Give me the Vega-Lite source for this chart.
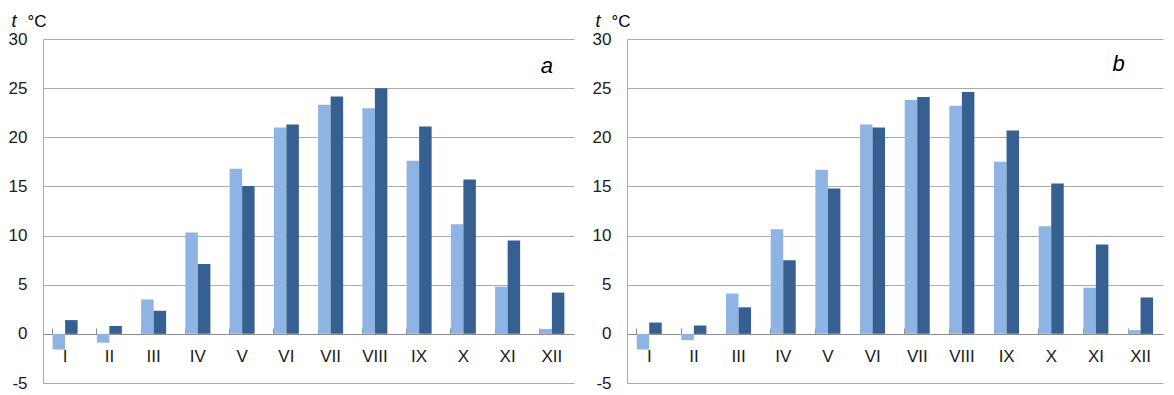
{
  "$schema": "https://vega.github.io/schema/vega-lite/v6.json",
  "background": "white",
  "padding": {"left": 8, "top": 12, "right": 6, "bottom": 4},
  "spacing": 18,
  "config": {
    "view": {"stroke": null},
    "font": "Liberation Sans",
    "axis": {"labelFont": "Liberation Sans", "titleFont": "Liberation Sans"}
  },
  "datasets": {
    "a": [
      {"month": "I", "series": "s1", "t": -1.6}, {"month": "I", "series": "s2", "t": 1.4},
      {"month": "II", "series": "s1", "t": -0.9}, {"month": "II", "series": "s2", "t": 0.8},
      {"month": "III", "series": "s1", "t": 3.5}, {"month": "III", "series": "s2", "t": 2.35},
      {"month": "IV", "series": "s1", "t": 10.3}, {"month": "IV", "series": "s2", "t": 7.1},
      {"month": "V", "series": "s1", "t": 16.8}, {"month": "V", "series": "s2", "t": 15.05},
      {"month": "VI", "series": "s1", "t": 21.0}, {"month": "VI", "series": "s2", "t": 21.3},
      {"month": "VII", "series": "s1", "t": 23.3}, {"month": "VII", "series": "s2", "t": 24.15},
      {"month": "VIII", "series": "s1", "t": 22.95}, {"month": "VIII", "series": "s2", "t": 25.0},
      {"month": "IX", "series": "s1", "t": 17.6}, {"month": "IX", "series": "s2", "t": 21.1},
      {"month": "X", "series": "s1", "t": 11.15}, {"month": "X", "series": "s2", "t": 15.7},
      {"month": "XI", "series": "s1", "t": 4.8}, {"month": "XI", "series": "s2", "t": 9.5},
      {"month": "XII", "series": "s1", "t": 0.5}, {"month": "XII", "series": "s2", "t": 4.2}
    ],
    "b": [
      {"month": "I", "series": "s1", "t": -1.6}, {"month": "I", "series": "s2", "t": 1.15},
      {"month": "II", "series": "s1", "t": -0.65}, {"month": "II", "series": "s2", "t": 0.85},
      {"month": "III", "series": "s1", "t": 4.1}, {"month": "III", "series": "s2", "t": 2.7},
      {"month": "IV", "series": "s1", "t": 10.65}, {"month": "IV", "series": "s2", "t": 7.5},
      {"month": "V", "series": "s1", "t": 16.7}, {"month": "V", "series": "s2", "t": 14.8},
      {"month": "VI", "series": "s1", "t": 21.3}, {"month": "VI", "series": "s2", "t": 21.0},
      {"month": "VII", "series": "s1", "t": 23.8}, {"month": "VII", "series": "s2", "t": 24.1},
      {"month": "VIII", "series": "s1", "t": 23.2}, {"month": "VIII", "series": "s2", "t": 24.6},
      {"month": "IX", "series": "s1", "t": 17.5}, {"month": "IX", "series": "s2", "t": 20.7},
      {"month": "X", "series": "s1", "t": 10.95}, {"month": "X", "series": "s2", "t": 15.3},
      {"month": "XI", "series": "s1", "t": 4.7}, {"month": "XI", "series": "s2", "t": 9.1},
      {"month": "XII", "series": "s1", "t": 0.38}, {"month": "XII", "series": "s2", "t": 3.7}
    ],
    "labelA": [{"month": "XII", "t": 27.3, "label": "a"}],
    "labelB": [{"month": "XII", "t": 27.5, "label": "b"}]
  },
  "hconcat": [
    {
      "width": 531,
      "height": 344,
      "encoding": {
        "x": {"field": "month", "type": "nominal", "sort": ["I", "II", "III", "IV", "V", "VI", "VII", "VIII", "IX", "X", "XI", "XII"],
          "scale": {"paddingInner": 0.435, "paddingOuter": 0.2175},
          "axis": {"title": "t", "titleFontStyle": "italic", "titleFontWeight": "normal", "titleFontSize": 18, "titleColor": "#000", "titleAlign": "left", "titleBaseline": "alphabetic", "titleAnchor": null, "titleX": -32, "titleY": -308, "labelAngle": 0, "offset": -49, "bandPosition": 0, "tickSize": -6, "labelPadding": 20, "domainColor": "#8c8c8c", "tickColor": "#8c8c8c", "labelFontSize": 17, "labelColor": "#1a1a1a", "grid": false}},
        "y": {"field": "t", "type": "quantitative", "scale": {"domain": [-5, 30], "nice": false, "zero": false},
          "axis": {"title": "°C", "titleAngle": 0, "titleAlign": "left", "titleBaseline": "alphabetic", "titleX": -16, "titleY": -13, "titleFontSize": 17, "titleFontWeight": "normal", "titleColor": "#000", "labelFontSize": 17, "labelColor": "#1a1a1a", "labelPadding": 16, "labelExpr": "'' + datum.value", "ticks": false, "values": [-5, 0, 5, 10, 15, 20, 25, 30], "grid": true, "gridColor": "#ababab", "domainColor": "#ababab"}}
      },
      "layer": [
        {
          "data": {"name": "a"},
          "mark": {"type": "bar"},
          "encoding": {
            "xOffset": {"field": "series", "type": "nominal", "sort": ["s1", "s2"], "scale": {"paddingInner": 0, "paddingOuter": 0}},
            "color": {"field": "series", "type": "nominal", "scale": {"domain": ["s1", "s2"], "range": ["#8EB4E3", "#376092"]}, "legend": null}
          }
        },
        {
          "data": {"name": "labelA"},
          "mark": {"type": "text", "fontStyle": "italic", "fontSize": 22, "dx": -5, "baseline": "middle", "font": "Liberation Sans", "color": "#000"},
          "encoding": {"text": {"field": "label"}}
        }
      ]
    },
    {
      "width": 536,
      "height": 344,
      "encoding": {
        "x": {"field": "month", "type": "nominal", "sort": ["I", "II", "III", "IV", "V", "VI", "VII", "VIII", "IX", "X", "XI", "XII"],
          "scale": {"paddingInner": 0.435, "paddingOuter": 0.2175},
          "axis": {"title": "t", "titleFontStyle": "italic", "titleFontWeight": "normal", "titleFontSize": 18, "titleColor": "#000", "titleAlign": "left", "titleBaseline": "alphabetic", "titleAnchor": null, "titleX": -32, "titleY": -308, "labelAngle": 0, "offset": -49, "bandPosition": 0, "tickSize": -6, "labelPadding": 20, "domainColor": "#8c8c8c", "tickColor": "#8c8c8c", "labelFontSize": 17, "labelColor": "#1a1a1a", "grid": false}},
        "y": {"field": "t", "type": "quantitative", "scale": {"domain": [-5, 30], "nice": false, "zero": false},
          "axis": {"title": "°C", "titleAngle": 0, "titleAlign": "left", "titleBaseline": "alphabetic", "titleX": -16, "titleY": -13, "titleFontSize": 17, "titleFontWeight": "normal", "titleColor": "#000", "labelFontSize": 17, "labelColor": "#1a1a1a", "labelPadding": 16, "labelExpr": "'' + datum.value", "ticks": false, "values": [-5, 0, 5, 10, 15, 20, 25, 30], "grid": true, "gridColor": "#ababab", "domainColor": "#ababab"}}
      },
      "layer": [
        {
          "data": {"name": "b"},
          "mark": {"type": "bar"},
          "encoding": {
            "xOffset": {"field": "series", "type": "nominal", "sort": ["s1", "s2"], "scale": {"paddingInner": 0, "paddingOuter": 0}},
            "color": {"field": "series", "type": "nominal", "scale": {"domain": ["s1", "s2"], "range": ["#8EB4E3", "#376092"]}, "legend": null}
          }
        },
        {
          "data": {"name": "labelB"},
          "mark": {"type": "text", "fontStyle": "italic", "fontSize": 22, "dx": -22, "baseline": "middle", "font": "Liberation Sans", "color": "#000"},
          "encoding": {"text": {"field": "label"}}
        }
      ]
    }
  ]
}
